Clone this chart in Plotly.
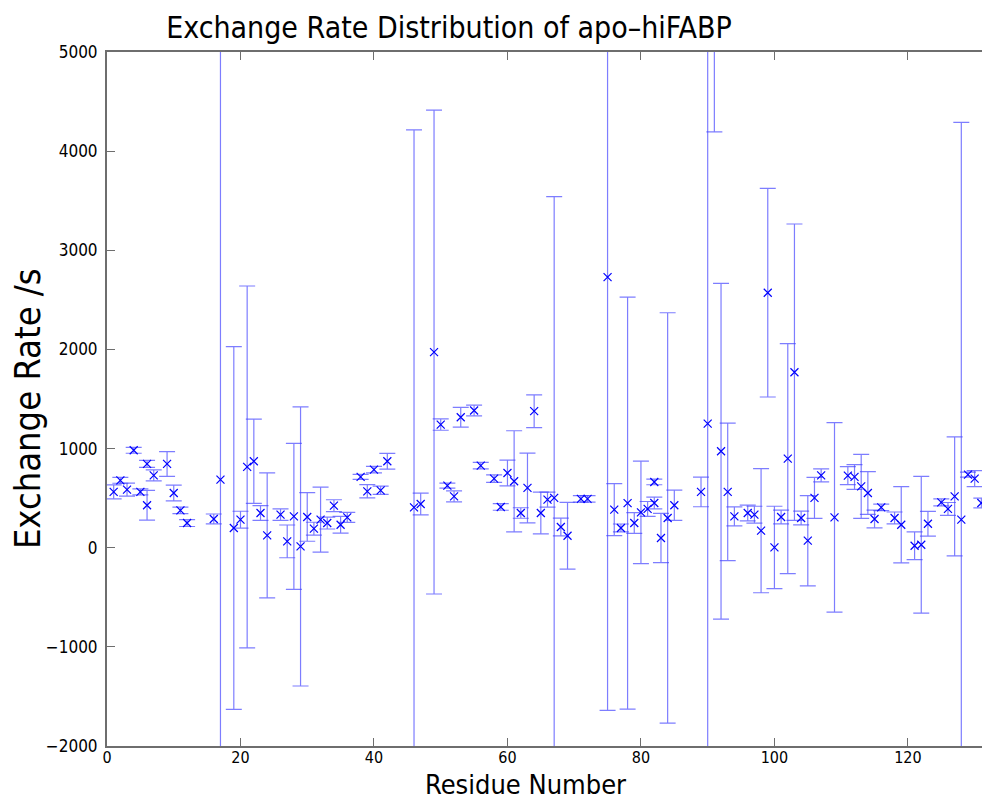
import plotly.graph_objects as go

# Residue numbers, exchange rates (1/s) and their uncertainties
residue = [1, 2, 3, 4, 5, 6, 6, 7, 9, 10, 11, 12, 16, 17, 19, 20, 21, 22, 23, 24,
           26, 27, 28, 29, 30, 31, 32, 33, 34, 35, 36, 38, 39, 40, 41, 42, 46, 47, 49, 50,
           51, 52, 53, 55, 56, 58, 59, 60, 61, 62, 63, 64, 65, 66, 67, 68, 69, 71, 72, 75,
           76, 77, 78, 79, 80, 81, 82, 82, 83, 84, 85, 89, 90, 91, 92, 93, 94, 96, 97, 98,
           99, 100, 101, 102, 103, 104, 105, 106, 107, 109, 111, 112, 113, 114, 115, 116, 118, 119, 121, 122,
           123, 125, 126, 127, 128, 129, 130, 131]
rate = [563, 680, 586, 983, 563, 845, 428, 730, 845, 552, 377, 249, 290, 687, 199, 283, 815, 872, 350, 124,
        333, 64, 316, 13, 310, 192, 283, 249, 424, 232, 306, 714, 569, 788, 579, 872, 407, 441, 1973, 1242,
        626, 518, 1316, 1384, 828, 697, 411, 754, 670, 350, 603, 1377, 350, 485, 502, 209, 121, 492, 492, 2730,
        384, 199, 450, 249, 357, 391, 663, 451, 98, 300, 428, 563, 1252, 6300, 973, 563, 316, 350, 333, 172,
        2572, 3, 310, 899, 1770, 300, 71, 502, 730, 306, 727, 714, 619, 552, 290, 407, 300, 232, 20, 30,
        242, 458, 391, 518, 283, 737, 697, 451]
rate_err = [70, 30, 65, 30, 30, 35, 150, 55, 125, 80, 33, 35, 50, 7000, 1830, 85, 1825, 425, 75, 630,
            58, 165, 737, 1408, 245, 65, 328, 60, 60, 85, 50, 25, 67, 33, 42, 80, 3808, 110, 2440, 57,
            25, 55, 100, 55, 33, 38, 33, 130, 510, 53, 352, 165, 210, 75, 3040, 90, 337, 33, 33, 4370,
            262, 40, 2078, 105, 517, 75, 28, 60, 248, 2070, 153, 150, 4500, 2105, 1693, 693, 95, 80, 85, 626,
            1052, 415, 70, 1160, 1495, 70, 455, 207, 65, 955, 90, 125, 323, 215, 90, 33, 60, 385, 140, 690,
            125, 35, 65, 600, 4007, 25, 80, 50]

x_ticks = [0, 20, 40, 60, 80, 100, 120]
y_ticks = [-2000, -1000, 0, 1000, 2000, 3000, 4000, 5000]

FONT = "Liberation Sans Narrow, DejaVu Sans Condensed, Arial Narrow, sans-serif"
AXIS_GREY = "#6e6e6e"

fig = go.Figure(
    go.Scatter(
        x=residue,
        y=rate,
        mode="markers",
        marker=dict(symbol="x-thin", size=8,
                    line=dict(color="rgb(0,0,255)", width=1.2)),
        error_y=dict(type="data", array=rate_err, visible=True,
                     color="rgba(70,70,255,0.7)", thickness=1.2, width=8),
        cliponaxis=True,
        showlegend=False,
    )
)

fig.update_layout(
    width=982,
    height=801,
    margin=dict(l=107, r=0, t=52, b=55),
    paper_bgcolor="white",
    plot_bgcolor="white",
    font=dict(family=FONT, color="black"),
    title=dict(text="Exchange Rate Distribution of apo\u2013hiFABP",
               x=449 / 982, xanchor="center", xref="container",
               y=1 - 27 / 801, yanchor="middle", yref="container",
               font=dict(family=FONT, size=30, color="black")),
    annotations=[
        # axis titles
        dict(text="Residue Number", xref="paper", yref="paper",
             x=0.478, y=-0.0793, xanchor="center", yanchor="bottom",
             borderpad=0,
             showarrow=False, font=dict(family=FONT, size=27, color="black")),
        dict(text="Exchange Rate /s", xref="paper", yref="paper",
             x=-0.091, y=0.486, xanchor="center", yanchor="middle", textangle=-90,
             showarrow=False, font=dict(family=FONT, size=36, color="black")),
    ],
)

fig.update_xaxes(
    range=[0, 131.1],
    tickvals=x_ticks,
    ticks="inside", ticklen=8, tickcolor=AXIS_GREY, tickwidth=1,
    showline=True, linecolor=AXIS_GREY, linewidth=2, mirror="ticks",
    showgrid=False, zeroline=False,
    tickfont=dict(size=16),
    ticklabelstandoff=-4,
    automargin=False,
)
fig.update_yaxes(
    range=[-2000, 5000],
    tickvals=y_ticks,
    ticks="inside", ticklen=8, tickcolor=AXIS_GREY, tickwidth=1,
    showline=True, linecolor=AXIS_GREY, linewidth=2,
    showgrid=False, zeroline=False,
    tickfont=dict(size=17),
    ticklabelstandoff=4,
    automargin=False,
)

fig.write_html("out.html")
